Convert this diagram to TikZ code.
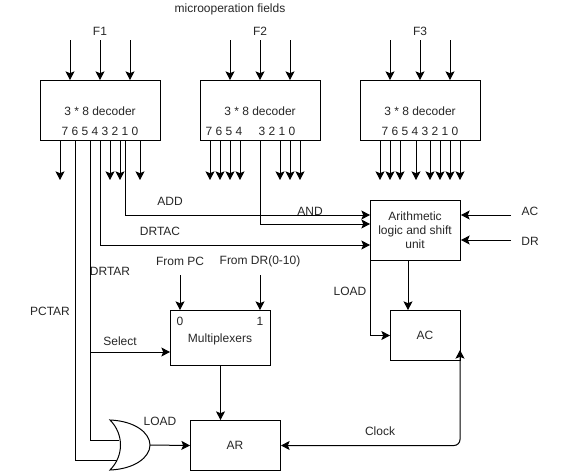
\documentclass[tikz,border=0pt]{standalone}
\usepackage{fontspec}
\setmainfont{Liberation Sans}
\usetikzlibrary{arrows.meta,positioning}

\tikzset{
	block/.style={draw=black,inner sep=0pt,anchor=north west},
	lbl/.style={inner sep=0pt,text=black!85,align=center}
}

\begin{document}
\begin{tikzpicture}[x=0.75pt,y=-0.75pt,->,>={Stealth[length=6.5pt,width=6.8pt,inset=1.4pt]},
                    line width=0.75pt,font=\fontsize{9}{10.5}\selectfont]
	\useasboundingbox (0,0) rectangle (581,471);

	% decoders
	\node[block,minimum width=90pt,minimum height=45pt] (decA) at (40,80) {};
	\node[block,minimum width=90pt,minimum height=45pt] (decB) at (200,80) {};
	\node[block,minimum width=90pt,minimum height=45pt] (decC) at (360,80) {};
	\node[lbl] (nameA) at (100,111) {3 * 8 decoder};
	\node[lbl] (nameB) at (260,111) {3 * 8 decoder};
	\node[lbl] (nameC) at (420,111) {3 * 8 decoder};
	\node[lbl] (bitsA) at (100,131) {7 6 5 4 3 2 1 0};
	\node[lbl] (bitsBh) at (224,131) {7 6 5 4};
	\node[lbl] (bitsBl) at (277,131) {3 2 1 0};
	\node[lbl] (bitsC) at (420,131) {7 6 5 4 3 2 1 0};

	% other blocks
	\node[block,minimum width=67.5pt,minimum height=45pt] (alu) at (370,200) {};
	\node[lbl] (aluText) at (415,230) {Arithmetic\\logic and shift\\unit};
	\node[block,minimum width=52.5pt,minimum height=37.5pt] (ac) at (390,310) {};
	\node[lbl] (acText) at (425,335) {AC};
	\node[block,minimum width=75pt,minimum height=41.25pt] (mux) at (170,310) {};
	\node[lbl] (muxText) at (220,339) {Multiplexers};
	\node[lbl] (muxZero) at (180,321) {0};
	\node[lbl] (muxOne) at (260,321) {1};
	\node[block,minimum width=67.5pt,minimum height=37.5pt] (ar) at (190,420) {};
	\node[lbl] (arText) at (235,445) {AR};

	% labels
	\node[lbl] (fields) at (230,9) {microoperation fields};
	\node[lbl] (fOne) at (100,31) {F1};
	\node[lbl] (fTwo) at (260,31) {F2};
	\node[lbl] (fThree) at (420,31) {F3};
	\node[lbl] (add) at (170,201) {ADD};
	\node[lbl] (andOp) at (310,211) {AND};
	\node[lbl] (drtac) at (160,231) {DRTAC};
	\node[lbl] (drtar) at (110,271) {DRTAR};
	\node[lbl] (pctar) at (50,311) {PCTAR};
	\node[lbl] (select) at (120,341) {Select};
	\node[lbl] (fromPc) at (180,261) {From PC};
	\node[lbl] (fromDr) at (260,261) {From DR(0-10)};
	\node[lbl] (loadAr) at (160,421) {LOAD};
	\node[lbl] (loadAc) at (350,291) {LOAD};
	\node[lbl] (clock) at (380,431) {Clock};
	\node[lbl] (acIn) at (530,211) {AC};
	\node[lbl] (drIn) at (530,241) {DR};

	% field inputs
	\foreach \x in {70,100,130,230,260,290,390,420,450} {
		\coordinate (top\x) at (\x,40);
		\coordinate (in\x) at (\x,80);
		\draw (top\x) -- (in\x);
	}

	% decoder outputs with arrows
	\foreach \x in {60,110,120,140,210,220,230,240,280,290,300,380,390,400,416,430,440,450,460} {
		\coordinate (out\x) at (\x,140);
		\coordinate (end\x) at (\x,180);
		\draw (out\x) -- (end\x);
	}

	\coordinate (out75) at (75,140);
	\coordinate (out90) at (90,140);
	\coordinate (out100) at (100,140);
	\coordinate (out125) at (125,140);
	\coordinate (out260) at (260,140);

	% ports
	\coordinate (aluAdd) at (370,215);
	\coordinate (aluAnd) at (370,224);
	\coordinate (aluDrtac) at (370,245);
	\coordinate (aluAc) at (461,215);
	\coordinate (aluDr) at (461,240);
	\coordinate (acFrom) at (511,215);
	\coordinate (drFrom) at (511,240);
	\coordinate (aluOut) at (408,260);
	\coordinate (acTop) at (408,310);
	\coordinate (acClk) at (460,350);
	\coordinate (pcFrom) at (180,275);
	\coordinate (dataFrom) at (260,275);
	\coordinate (muxPc) at (180,310);
	\coordinate (muxDr) at (260,310);
	\coordinate (selFrom) at (90,352);
	\coordinate (selTo) at (170,352);
	\coordinate (orTop) at (119,440);
	\coordinate (orBot) at (119,460);
	\coordinate (orOut) at (150,445);

	\draw (out125) |- (aluAdd);
	\draw (out260) |- (aluAnd);
	\draw (out100) |- (aluDrtac);
	\draw (acFrom) -- (aluAc);
	\draw (drFrom) -- (aluDr);
	\draw (aluOut) -- (acTop);
	\draw (alu.south west) |- (ac.west);
	\draw (pcFrom) -- (muxPc);
	\draw (dataFrom) -- (muxDr);
	\draw (selFrom) -- (selTo);
	\draw (mux.south) -- (mux.south |- ar.north);
	\draw (orOut) -- (ar.west);
	\draw[<->,rounded corners=4.5pt] (ar.east) -| (acClk);
	\draw[-] (out90) |- (orTop);
	\draw[-] (out75) |- (orBot);

	% or gate
	\draw[-,fill=white] (110,420) .. controls (135,421) and (150,433) .. (orOut)
		.. controls (150,457) and (135,469) .. (110,470)
		.. controls (124,456) and (124,434) .. cycle;
\end{tikzpicture}
\end{document}
